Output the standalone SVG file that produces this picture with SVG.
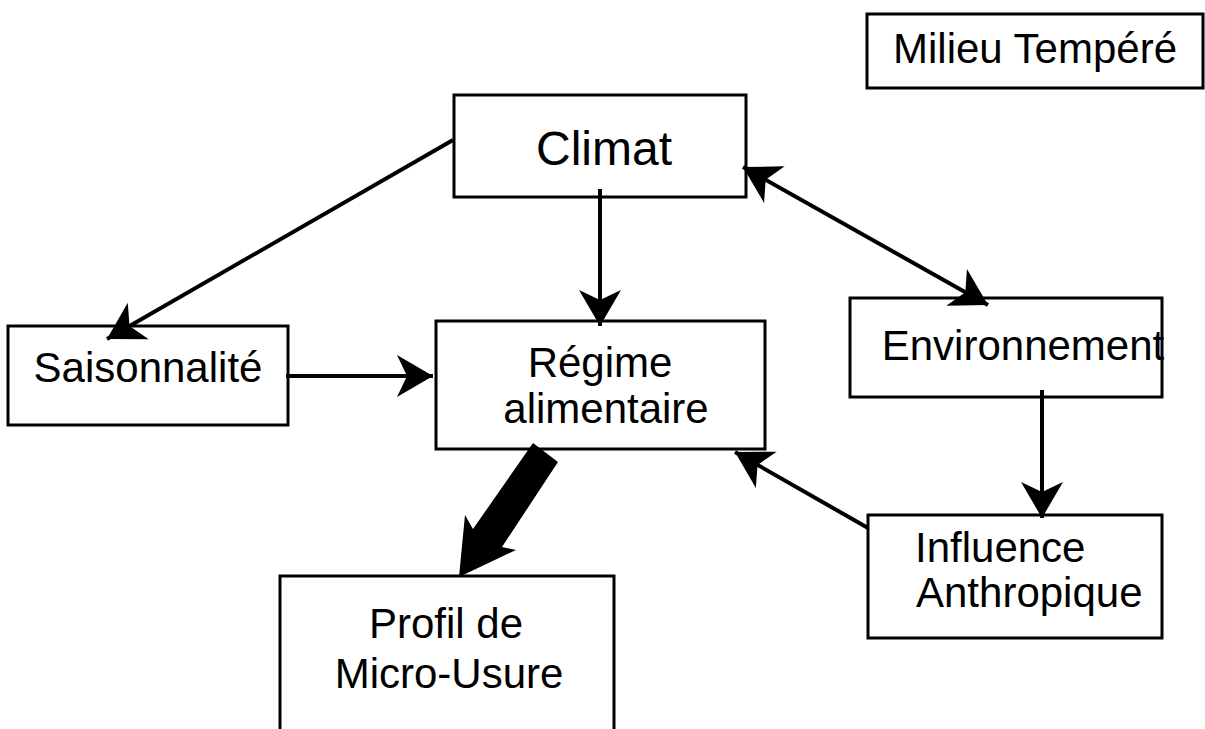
<svg xmlns="http://www.w3.org/2000/svg" width="1205" height="729" viewBox="0 0 1205 729">
<style>
.box{fill:#fff;stroke:#000;stroke-width:3}
.t{font-family:"Liberation Sans",Arial,sans-serif;font-size:42px;fill:#000}
.c{fill:none;stroke:#000;stroke-width:4}
</style>
<defs>
<marker id="ah" markerUnits="userSpaceOnUse" markerWidth="50" markerHeight="50" viewBox="-40 -25 44 50" refX="0" refY="0" orient="auto-start-reverse">
<path d="M0,0 L-36,-21 L-26,0 L-36,21 Z" fill="#000"/>
</marker>
</defs>
<rect width="1205" height="729" fill="#fff"/>
<g id="n-milieu"><rect class="box" x="867" y="14" width="336" height="74"/><text class="t" x="1035" y="63" text-anchor="middle">Milieu Tempéré</text></g>
<g id="n-climat"><rect class="box" x="454" y="95" width="292" height="102"/><text class="t" x="604" y="165" text-anchor="middle" style="font-size:48px">Climat</text></g>
<g id="n-saison"><rect class="box" x="8" y="326" width="280" height="99"/><text class="t" x="148" y="382" text-anchor="middle">Saisonnalité</text></g>
<g id="n-regime"><rect class="box" x="436" y="321" width="329" height="128"/><text class="t" text-anchor="middle"><tspan x="600" y="377">Régime</tspan><tspan x="606" y="423">alimentaire</tspan></text></g>
<g id="n-env"><rect class="box" x="850" y="298" width="312" height="99"/><text class="t" x="1023" y="360" text-anchor="middle">Environnement</text></g>
<g id="n-infl"><rect class="box" x="868" y="515" width="294" height="123"/><text class="t"><tspan x="915" y="562">Influence</tspan><tspan x="916" y="607">Anthropique</tspan></text></g>
<g id="n-profil"><rect class="box" x="280" y="576" width="334" height="170"/><text class="t" text-anchor="middle"><tspan x="446" y="638">Profil de</tspan><tspan x="449" y="688">Micro-Usure</tspan></text></g>
<g id="connectors">
<line class="c" x1="453" y1="140" x2="107" y2="339" marker-end="url(#ah)"/>
<line class="c" x1="600" y1="189" x2="600" y2="326" marker-end="url(#ah)"/>
<line class="c" x1="743" y1="167" x2="988" y2="305" marker-start="url(#ah)" marker-end="url(#ah)"/>
<line class="c" x1="286" y1="376" x2="433" y2="376" marker-end="url(#ah)"/>
<line class="c" x1="1042" y1="390" x2="1042" y2="518" marker-end="url(#ah)"/>
<line class="c" x1="868" y1="528" x2="735" y2="452" marker-end="url(#ah)"/>
<polygon points="533,443 558,462 502,547 516,550 459,577 465,515 473,529" fill="#000"/>
</g>
</svg>
